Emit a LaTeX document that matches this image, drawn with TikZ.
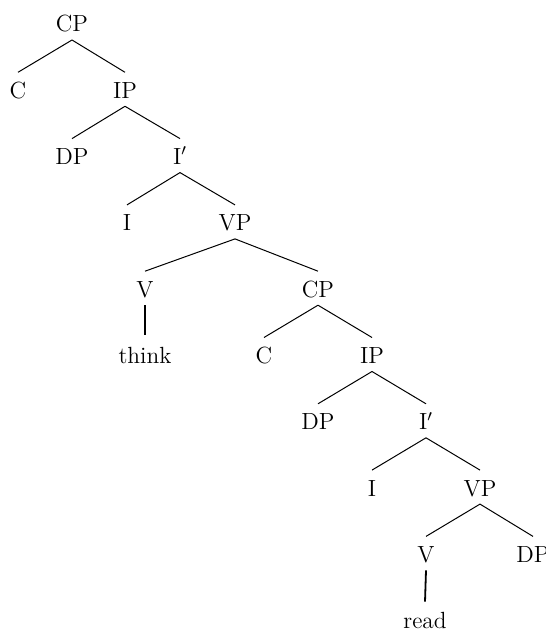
\documentclass[tikz,border=0pt]{standalone}
\begin{document}
\begin{tikzpicture}[x=0.5pt,y=-0.5pt,
  lab/.style={anchor=base, inner sep=0pt, font=\fontsize{11.7}{14}\selectfont},
  branch/.style={line width=0.5pt},
  unary/.style={line width=0.9pt}]
\useasboundingbox (0,0) rectangle (545,630);
\clip (0,0) rectangle (545,630);
% row baselines: 32 + 66.3 k
\node[lab] (cpA)   at (72,32)    {CP};
\node[lab] (cA)    at (18,98.3)  {C};
\node[lab] (ipA)   at (125,98.3) {IP};
\node[lab] (dpA)   at (72,164.6) {DP};
\node[lab] (ibA)   at (180,164.6) {I$'$};
\node[lab] (iA)    at (127,230.9) {I};
\node[lab] (vpA)   at (235,230.9) {VP};
\node[lab] (vA)    at (145,297.2) {V};
\node[lab] (cpB)   at (318,297.2) {CP};
\node[lab] (think) at (145,363.5) {think};
\node[lab] (cB)    at (264,363.5) {C};
\node[lab] (ipB)   at (372,363.5) {IP};
\node[lab] (dpB)   at (318,429.8) {DP};
\node[lab] (ibB)   at (426,429.8) {I$'$};
\node[lab] (iB)    at (372,496.1) {I};
\node[lab] (vpB)   at (480,496.1) {VP};
\node[lab] (vB)    at (426,562.4) {V};
\node[lab] (dpC)   at (533,562.4) {DP};
\node[lab] (read)  at (425,628.7) {read};
\foreach \p/\c in {cpA/cA, cpA/ipA, ipA/dpA, ipA/ibA, ibA/iA, ibA/vpA,
                   vpA/vA, vpA/cpB, cpB/cB, cpB/ipB, ipB/dpB, ipB/ibB,
                   ibB/iB, ibB/vpB, vpB/vB, vpB/dpC}
  \draw[branch] ([yshift=-4pt]\p.base) -- ([yshift=13pt]\c.base);
\draw[unary] ([yshift=-4pt]vA.base) -- ([yshift=14.5pt]think.base);
\draw[unary] ([yshift=-4pt]vB.base) -- ([yshift=13.5pt]read.base);
\end{tikzpicture}
\end{document}
